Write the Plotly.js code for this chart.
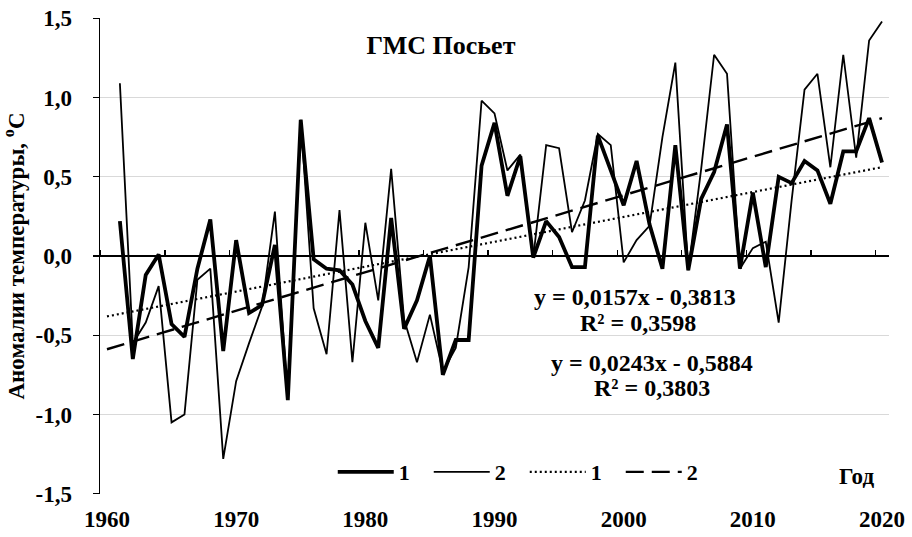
<!DOCTYPE html>
<html>
<head>
<meta charset="utf-8">
<script src="https://cdn.plot.ly/plotly-3.0.1.min.js"></script>
<style>html,body{margin:0;padding:0;background:#fff;}#chart{width:912px;height:537px;}</style>
</head>
<body>
<div id="chart"></div>
<script>
var years = [1961,1962,1963,1964,1965,1966,1967,1968,1969,1970,
             1971,1972,1973,1974,1975,1976,1977,1978,1979,1980,
             1981,1982,1983,1984,1985,1986,1987,1988,1989,1990,
             1991,1992,1993,1994,1995,1996,1997,1998,1999,2000,
             2001,2002,2003,2004,2005,2006,2007,2008,2009,2010,
             2011,2012,2013,2014,2015,2016,2017,2018,2019,2020];

var series1 = [0.22,-0.65,-0.12,0.01,-0.43,-0.51,-0.08,0.23,-0.60,0.10,
               -0.36,-0.31,0.07,-0.91,0.86,-0.02,-0.08,-0.09,-0.18,-0.41,
               -0.58,0.24,-0.46,-0.28,0.00,-0.75,-0.53,-0.53,0.57,0.84,
               0.38,0.63,-0.01,0.22,0.12,-0.07,-0.07,0.76,0.54,0.32,
               0.60,0.20,-0.08,0.70,-0.09,0.36,0.53,0.83,-0.08,0.40,
               -0.07,0.50,0.46,0.60,0.54,0.33,0.66,0.66,0.87,0.59];

var series2 = [1.09,-0.55,-0.42,-0.19,-1.05,-1.00,-0.15,-0.08,-1.28,-0.79,
               -0.55,-0.32,0.28,-0.90,0.86,-0.33,-0.62,0.29,-0.67,0.21,
               -0.28,0.55,-0.40,-0.67,-0.37,-0.73,-0.58,-0.07,0.98,0.90,
               0.54,0.64,-0.01,0.70,0.68,0.15,0.35,0.77,0.70,-0.04,
               0.10,0.19,0.75,1.22,-0.09,0.55,1.27,1.15,-0.08,0.05,
               0.09,-0.42,0.35,1.05,1.15,0.56,1.27,0.62,1.36,1.48];

// Trend line coefficients as printed on the chart (x = year - 1960)
var trend1Slope = 0.0157, trend1Intercept = -0.3813;
var trend2Slope = 0.0243, trend2Intercept = -0.5884;
var trendYears = [1960, 2020];

var xTickLabels = ['1960','1970','1980','1990','2000','2010','2020'];
var xTickVals = [1960,1970,1980,1990,2000,2010,2020];
var yTickVals = [-1.5,-1,-0.5,0,0.5,1,1.5];
var yTickLabels = ['-1,5','-1,0','-0,5','0,0','0,5','1,0','1,5'];
var legendNames = ['1','2','1','2'];

var trend1 = trendYears.map(function(y){ return trend1Slope*(y-1960) + trend1Intercept; });
var trend2 = trendYears.map(function(y){ return trend2Slope*(y-1960) + trend2Intercept; });

var FONT = 'Liberation Serif, Times New Roman, serif';
function f(sz){ return {family: FONT, size: sz, color: '#000', weight: 'bold'}; }

var traces = [
  {x: years, y: series1, type: 'scatter', mode: 'lines', name: legendNames[0],
   line: {color: '#000', width: 3.8}, hoverinfo: 'skip'},
  {x: years, y: series2, type: 'scatter', mode: 'lines', name: legendNames[1],
   line: {color: '#000', width: 1.8}, hoverinfo: 'skip'},
  {x: trendYears, y: trend1, type: 'scatter', mode: 'lines', name: legendNames[2], xaxis: 'x2',
   line: {color: '#000', width: 2.2, dash: '2px,3px'}, hoverinfo: 'skip'},
  {x: trendYears, y: trend2, type: 'scatter', mode: 'lines', name: legendNames[3], xaxis: 'x2',
   line: {color: '#000', width: 2.4, dash: '18px,8px'}, hoverinfo: 'skip'}
];

var xr = [1959.46, 2020.54];

var layout = {
  width: 912, height: 537,
  margin: {l: 100, r: 23, t: 18, b: 43},
  paper_bgcolor: '#fff', plot_bgcolor: '#fff',
  separators: ', ',
  showlegend: true,
  font: f(20),
  title: {text: 'ГМС Посьет', x: 441/912, y: 1-45/537, xanchor: 'center', yanchor: 'middle', font: f(26)},
  xaxis: {range: xr, tickvals: xTickVals, ticktext: xTickLabels, ticks: '',
          showline: false, showgrid: false, zeroline: false, ticklabelstandoff: 9,
          tickfont: f(23)},
  xaxis2: {range: xr, overlaying: 'x', anchor: 'free', position: 0.5, side: 'top',
           tick0: 1964.5, dtick: 5, ticks: 'outside', ticklen: 6, tickwidth: 1.3, tickcolor: '#000',
           showticklabels: false, showline: false, showgrid: false, zeroline: false},
  yaxis: {range: [-1.502, 1.502], tickvals: yTickVals, ticktext: yTickLabels,
          showline: true, linecolor: '#000', linewidth: 1.5,
          ticks: 'outside', ticklen: 6, tickwidth: 1.3, tickcolor: '#000',
          gridcolor: '#d9d9d9', gridwidth: 1.3, ticklabelstandoff: 16,
          zeroline: true, zerolinecolor: '#000', zerolinewidth: 1.5,
          tickfont: f(23),
          title: {text: 'Аномалии температуры, <sup>о</sup>С', standoff: 12, font: f(23)}},
  legend: {orientation: 'h', x: 0.295, y: 0.046, xanchor: 'left', yanchor: 'middle',
           bgcolor: 'rgba(0,0,0,0)', font: f(22),
           itemwidth: 56, entrywidth: 25, entrywidthmode: 'pixels', traceorder: 'normal'},
  annotations: [
    {text: 'Год', xref: 'paper', yref: 'paper', x: 0.959, y: 0.036, xanchor: 'center', yanchor: 'middle', showarrow: false, font: f(23)},
    {text: 'y = 0,0157x - 0,3813', xref: 'paper', yref: 'paper', x: 0.678, y: 0.414, xanchor: 'center', yanchor: 'middle', showarrow: false, font: f(24)},
    {text: 'R² = 0,3598', xref: 'paper', yref: 'paper', x: 0.682, y: 0.359, xanchor: 'center', yanchor: 'middle', showarrow: false, font: f(24)},
    {text: 'y = 0,0243x - 0,5884', xref: 'paper', yref: 'paper', x: 0.7, y: 0.275, xanchor: 'center', yanchor: 'middle', showarrow: false, font: f(24)},
    {text: 'R² = 0,3803', xref: 'paper', yref: 'paper', x: 0.7, y: 0.223, xanchor: 'center', yanchor: 'middle', showarrow: false, font: f(24)}
  ]
};

Plotly.newPlot('chart', traces, layout, {staticPlot: true, displayModeBar: false});
</script>
</body>
</html>
